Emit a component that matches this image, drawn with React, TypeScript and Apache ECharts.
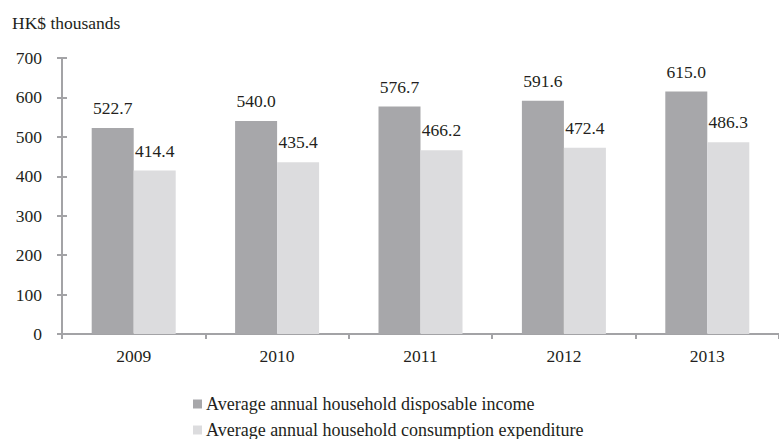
import React, { useEffect, useRef } from "react";
import * as echarts from "echarts";

const years = ["2009", "2010", "2011", "2012", "2013"];
const income = [522.7, 540.0, 576.7, 591.6, 615.0];
const expenditure = [414.4, 435.4, 466.2, 472.4, 486.3];
const seriesNames = [
  "Average annual household disposable income",
  "Average annual household consumption expenditure",
];
const unitLabel = "HK$ thousands";

const FONT = "'Liberation Serif', 'DejaVu Serif', serif";
const TEXT = "#231f20";
const AXIS = "#a3a3a6";

export default function App() {
  const ref = useRef<HTMLDivElement>(null);
  useEffect(() => {
    if (!ref.current) return;
    const chart = echarts.init(ref.current, undefined, { renderer: "svg" });
    const yBase = {
      type: "value" as const,
      min: 0,
      max: 700,
      interval: 100,
      splitLine: { show: false },
      axisLine: { show: true, lineStyle: { color: AXIS, width: 2 } },
    };
    chart.setOption({
      animation: false,
      textStyle: { fontFamily: FONT },
      grid: { left: 62, right: -11, top: 58, bottom: 105 },
      graphic: [
        {
          type: "text",
          left: 12,
          top: 14,
          style: { text: unitLabel, font: `17.5px ${FONT}`, fill: TEXT },
        },
      ],
      legend: {
        orient: "vertical",
        left: 193,
        top: 395,
        height: 80,
        padding: 0,
        itemWidth: 9,
        itemHeight: 9,
        itemGap: 8,
        itemStyle: { borderWidth: 0 },
        icon: "rect",
        textStyle: { fontFamily: FONT, fontSize: 18, color: TEXT, padding: [0, 0, 0, -1] },
        data: seriesNames,
      },
      xAxis: {
        type: "category",
        data: years,
        axisLine: { lineStyle: { color: AXIS, width: 2 } },
        axisTick: { show: true, length: 5, inside: false, lineStyle: { color: AXIS, width: 2 } },
        axisLabel: { fontFamily: FONT, fontSize: 17.5, color: TEXT, margin: 13 },
      },
      yAxis: [
        {
          ...yBase,
          axisTick: { show: true, length: 5, lineStyle: { color: AXIS, width: 2 } },
          axisLabel: { fontFamily: FONT, fontSize: 17.5, color: TEXT, margin: 20 },
        },
        {
          ...yBase,
          position: "left",
          axisTick: { show: true, inside: true, length: 5, lineStyle: { color: AXIS, width: 2 } },
          axisLabel: { show: false },
        },
      ],
      series: [
        {
          name: seriesNames[0],
          type: "bar",
          data: income,
          barWidth: 42,
          barGap: "0%",
          itemStyle: { color: "#a7a7aa" },
          label: {
            show: true,
            position: "top",
            distance: 11,
            fontFamily: FONT,
            fontSize: 17.5,
            color: TEXT,
            formatter: (p: any) => Number(p.value).toFixed(1),
          },
        },
        {
          name: seriesNames[1],
          type: "bar",
          data: expenditure,
          barWidth: 42,
          barGap: "0%",
          itemStyle: { color: "#dcdcde" },
          label: {
            show: true,
            position: "top",
            distance: 11,
            fontFamily: FONT,
            fontSize: 17.5,
            color: TEXT,
            formatter: (p: any) => Number(p.value).toFixed(1),
          },
        },
      ],
    });
    return () => chart.dispose();
  }, []);
  return <div ref={ref} style={{ width: 779, height: 439, position: "absolute", left: 0, top: 0 }} />;
}
